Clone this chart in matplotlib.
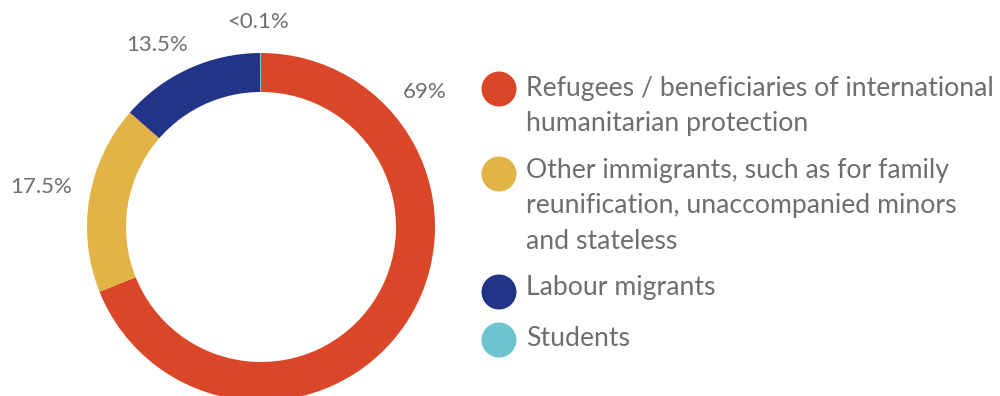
import matplotlib
matplotlib.use("Agg")
import matplotlib.pyplot as plt
from matplotlib.patches import Circle

# Share of each migrant category
categories = [
    "Refugees / beneficiaries of international\nhumanitarian protection",
    "Other immigrants, such as for family\nreunification, unaccompanied minors\nand stateless",
    "Labour migrants",
    "Students",
]
shares = [69, 17.5, 13.5, 0.1]
share_labels = ["69%", "17.5%", "13.5%", "<0.1%"]
colors = ["#DA4628", "#E2B445", "#233388", "#6DC4CE"]

W, H = 1000, 396
fig = plt.figure(figsize=(W / 100, H / 100), dpi=100)
ax = fig.add_axes([0, 0, 1, 1])

font = "Lato"
text_grey = "#6E6E6E"

cx, cy, r = 261, H - 227, 174
ax.pie(shares, colors=colors, startangle=90, counterclock=False,
       center=(cx, cy), radius=r, frame=True,
       wedgeprops=dict(width=39, edgecolor="none"))

# percentage labels around the ring
label_pos = [(425, 92), (41, 187), (157, 45), (258, 22)]
for txt, (x, y) in zip(share_labels, label_pos):
    ax.text(x, H - y, txt, ha="center", va="center", fontsize=16,
            color=text_grey, family=font)

# legend
marker_y = [89, 174, 292, 340]
text_y = [106, 206, 288, 338]
for name, col, my, ty in zip(categories, colors, marker_y, text_y):
    ax.add_patch(Circle((499, H - my), 17.5, color=col, lw=0))
    ax.text(526, H - ty, name, ha="left", va="center", fontsize=19.2,
            color=text_grey, family=font, linespacing=1.52)

ax.set_xlim(0, W)
ax.set_ylim(0, H)
ax.set_aspect("equal")
ax.set_axis_off()

fig.savefig("out.png", dpi=100, facecolor="white")
